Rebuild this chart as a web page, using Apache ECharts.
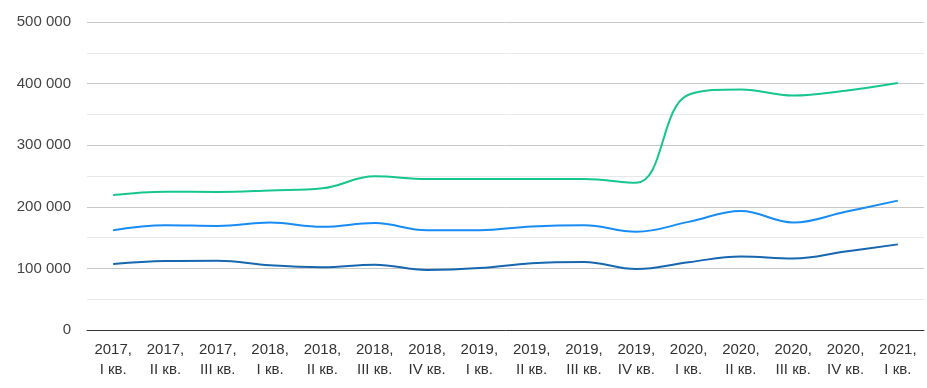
<!DOCTYPE html>
<html><head><meta charset="utf-8">
<script src="https://cdn.jsdelivr.net/npm/echarts@6/dist/echarts.min.js"></script>
<style>html,body{margin:0;padding:0;background:#fff}#c{width:927px;height:388px}</style>
</head><body><div id="c"></div>
<script>
const categories = ['2017,\nI кв.','2017,\nII кв.','2017,\nIII кв.','2018,\nI кв.','2018,\nII кв.','2018,\nIII кв.','2018,\nIV кв.','2019,\nI кв.','2019,\nII кв.','2019,\nIII кв.','2019,\nIV кв.','2020,\nI кв.','2020,\nII кв.','2020,\nIII кв.','2020,\nIV кв.','2021,\nI кв.'];
const seriesGreen = [219000,224500,224000,226500,230000,249500,245000,245000,245000,245000,239000,382000,390500,380500,388500,401000];
const seriesBlue = [162000,170000,169000,174500,167500,173500,162000,162000,168000,170000,159500,175500,193000,174500,192000,210000];
const seriesDark = [107000,112000,112500,105000,102000,106000,97500,100500,108500,110500,99000,110000,119500,116000,127500,139000];
const yMax = 500000;
const yStep = 100000;

const chart = echarts.init(document.getElementById('c'));
const fontFam = 'Arial, "Liberation Sans", sans-serif';
function mk(data, color){
  return {type:'line', data, smooth:0.4, showSymbol:false, symbol:'none',
    lineStyle:{color, width:2}, itemStyle:{color}};
}
chart.setOption({
  animation:false,
  grid:{left:87, right:3, top:22, bottom:58, containLabel:false},
  xAxis:{type:'category', data:categories, boundaryGap:true,
    axisLine:{show:true, lineStyle:{color:'#333', width:1}},
    axisTick:{show:false},
    axisLabel:{color:'#333', fontSize:15, fontFamily:fontFam, lineHeight:20, margin:10, interval:0}
  },
  yAxis:{type:'value', min:0, max:yMax, interval:yStep,
    axisLine:{show:false}, axisTick:{show:false},
    axisLabel:{color:'#444', fontSize:15, fontFamily:fontFam, margin:16,
      formatter:v=>String(v).replace(/\B(?=(\d{3})+(?!\d))/g,' ')},
    splitLine:{lineStyle:{color:'#c8c8c8', width:1}},
    minorTick:{show:false, splitNumber:2},
    minorSplitLine:{show:true, lineStyle:{color:'#e8e8e8', width:1}}
  },
  series:[mk(seriesGreen,'#17c68e'), mk(seriesBlue,'#178cf5'), mk(seriesDark,'#1766b0')]
});
</script></body></html>
